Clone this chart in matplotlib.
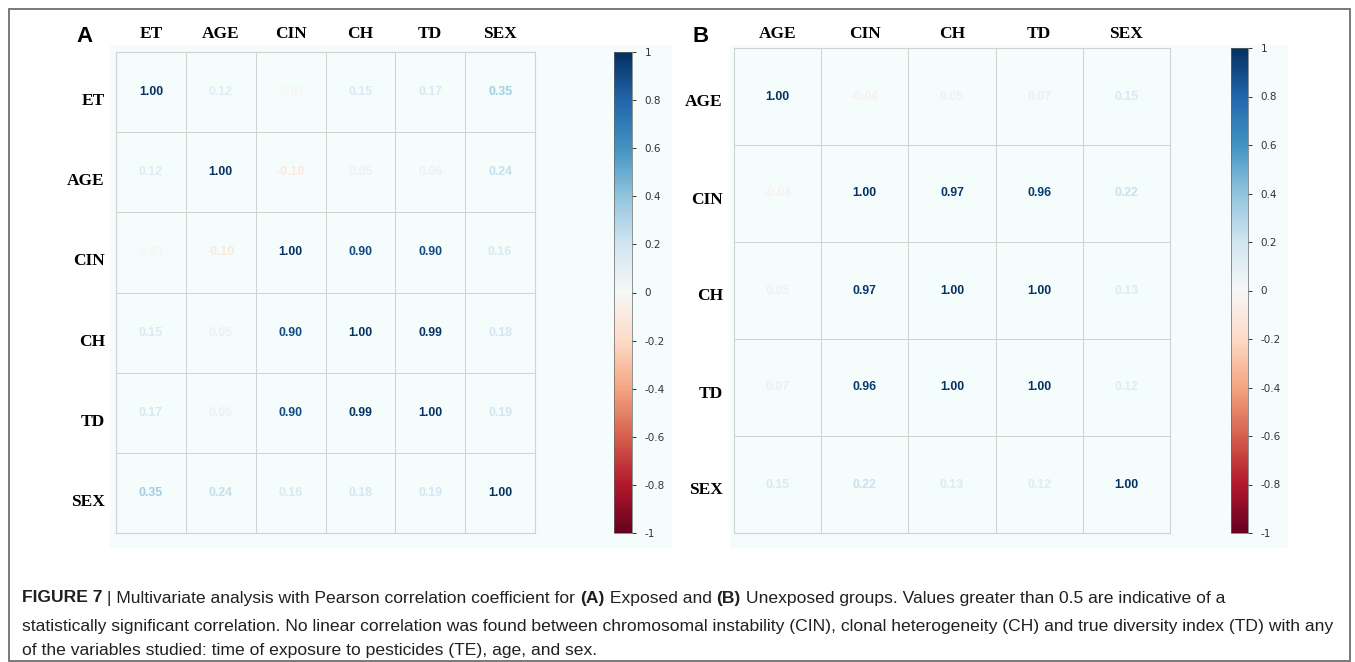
import numpy as np
import matplotlib
matplotlib.use("Agg")
import matplotlib.pyplot as plt
from matplotlib import cm
from matplotlib.colors import Normalize, ListedColormap
from matplotlib.patches import Rectangle
from matplotlib.transforms import ScaledTranslation

W, H = 1355, 662

labels_a = ["ET", "AGE", "CIN", "CH", "TD", "SEX"]
corr_a = np.array([
    [1.00, 0.12, -0.01, 0.15, 0.17, 0.35],
    [0.12, 1.00, -0.10, 0.05, 0.06, 0.24],
    [-0.01, -0.10, 1.00, 0.90, 0.90, 0.16],
    [0.15, 0.05, 0.90, 1.00, 0.99, 0.18],
    [0.17, 0.06, 0.90, 0.99, 1.00, 0.19],
    [0.35, 0.24, 0.16, 0.18, 0.19, 1.00],
])

labels_b = ["AGE", "CIN", "CH", "TD", "SEX"]
corr_b = np.array([
    [1.00, -0.04, 0.05, 0.07, 0.15],
    [-0.04, 1.00, 0.97, 0.96, 0.22],
    [0.05, 0.97, 1.00, 1.00, 0.13],
    [0.07, 0.96, 1.00, 1.00, 0.12],
    [0.15, 0.22, 0.13, 0.12, 1.00],
])

cbar_ticks = [1, 0.8, 0.6, 0.4, 0.2, 0, -0.2, -0.4, -0.6, -0.8, -1]

caption = [
    [("FIGURE 7", True), (" | Multivariate analysis with Pearson correlation coefficient for ", False),
     ("(A)", True), (" Exposed and ", False), ("(B)", True),
     (" Unexposed groups. Values greater than 0.5 are indicative of a", False)],
    [("statistically significant correlation. No linear correlation was found between chromosomal "
      "instability (CIN), clonal heterogeneity (CH) and true diversity index (TD) with any", False)],
    [("of the variables studied: time of exposure to pesticides (TE), age, and sex.", False)],
]

panel_bg = "#F4FCFC"
grid_col = "#D2D2D2"
cmap = plt.get_cmap("RdBu")
norm = Normalize(-1, 1)

fig = plt.figure(figsize=(W / 100, H / 100), dpi=100)
fig.patch.set_facecolor("white")


def box(x0, y0, x1, y1):
    # pixel box (top-left origin) -> figure fraction rect
    return [x0 / W, 1 - y1 / H, (x1 - x0) / W, (y1 - y0) / H]


def add_rect(x0, y0, x1, y1, **kw):
    fig.patches.append(Rectangle((x0 / W, 1 - y1 / H), (x1 - x0) / W, (y1 - y0) / H,
                                 transform=fig.transFigure, **kw))


def corr_panel(grid_box, cbar_box, labels, corr, top_pad, row_shift):
    ax = fig.add_axes(box(*grid_box))
    n = len(labels)
    ax.pcolormesh(np.zeros((n, n)), cmap=ListedColormap([panel_bg]),
                  edgecolors=grid_col, linewidth=0.7)
    ax.set_xlim(0, n)
    ax.set_ylim(n, 0)
    for i in range(n):
        for j in range(n):
            v = corr[i, j]
            ax.text(j + 0.5, i + 0.5, f"{v:.2f}", ha="center", va="center",
                    color=cmap(norm(v)), fontsize=8.8, fontweight="bold",
                    family="Liberation Sans")
    ax.set_xticks(np.arange(n) + 0.5, labels)
    ax.set_yticks(np.arange(n) + 0.5, labels)
    ax.xaxis.tick_top()
    ax.tick_params(axis="x", length=0, pad=top_pad)
    ax.tick_params(axis="y", length=0, pad=8)
    shift = ScaledTranslation(0, -row_shift / 100, fig.dpi_scale_trans)
    for lab in ax.get_xticklabels() + ax.get_yticklabels():
        lab.set_family("Liberation Serif")
        lab.set_fontweight("bold")
        lab.set_fontsize(12.5)
    for lab in ax.get_yticklabels():
        lab.set_transform(lab.get_transform() + shift)
    for s in ax.spines.values():
        s.set_color(grid_col)
        s.set_linewidth(0.8)

    cax = fig.add_axes(box(*cbar_box))
    cb = fig.colorbar(cm.ScalarMappable(norm=norm, cmap=cmap), cax=cax, ticks=cbar_ticks)
    cb.ax.set_yticklabels([f"{t:g}" for t in cbar_ticks])
    cb.outline.set_linewidth(0.5)
    cb.outline.set_edgecolor("#666666")
    cax.tick_params(labelsize=7.5, length=3, width=0.7, colors="#333333", pad=6)
    return ax


# outer frame and light plotting regions (behind the axes)
add_rect(9, 9, 1350, 661, facecolor="none", edgecolor="#6E6E6E", linewidth=1.3)
add_rect(110, 45, 672, 548, facecolor=panel_bg, edgecolor="none", zorder=-1)
add_rect(730, 45, 1288, 548, facecolor=panel_bg, edgecolor="none", zorder=-1)

corr_panel((116, 52, 535, 533), (614, 52, 632, 533), labels_a, corr_a, 7, 7)
corr_panel((734, 48, 1170, 533), (1231, 48, 1248, 533), labels_b, corr_b, 4, 4)

fig.text(76 / W, 1 - 37 / H, "A", fontsize=16, fontweight="bold", family="Liberation Sans",
         ha="left", va="center")
fig.text(692 / W, 1 - 37 / H, "B", fontsize=16, fontweight="bold", family="Liberation Sans",
         ha="left", va="center")

# caption, drawn piece by piece so bold runs sit inline
renderer = fig.canvas.get_renderer()
for line, y in zip(caption, [598, 626, 651]):
    x = 22
    for txt, bold in line:
        t = fig.text(x / W, 1 - y / H, txt, fontsize=12.6, family="Liberation Sans",
                     fontweight="bold" if bold else "normal", color="#231F20",
                     ha="left", va="center")
        x += t.get_window_extent(renderer).width

fig.savefig("out.png", dpi=100, facecolor="white")
